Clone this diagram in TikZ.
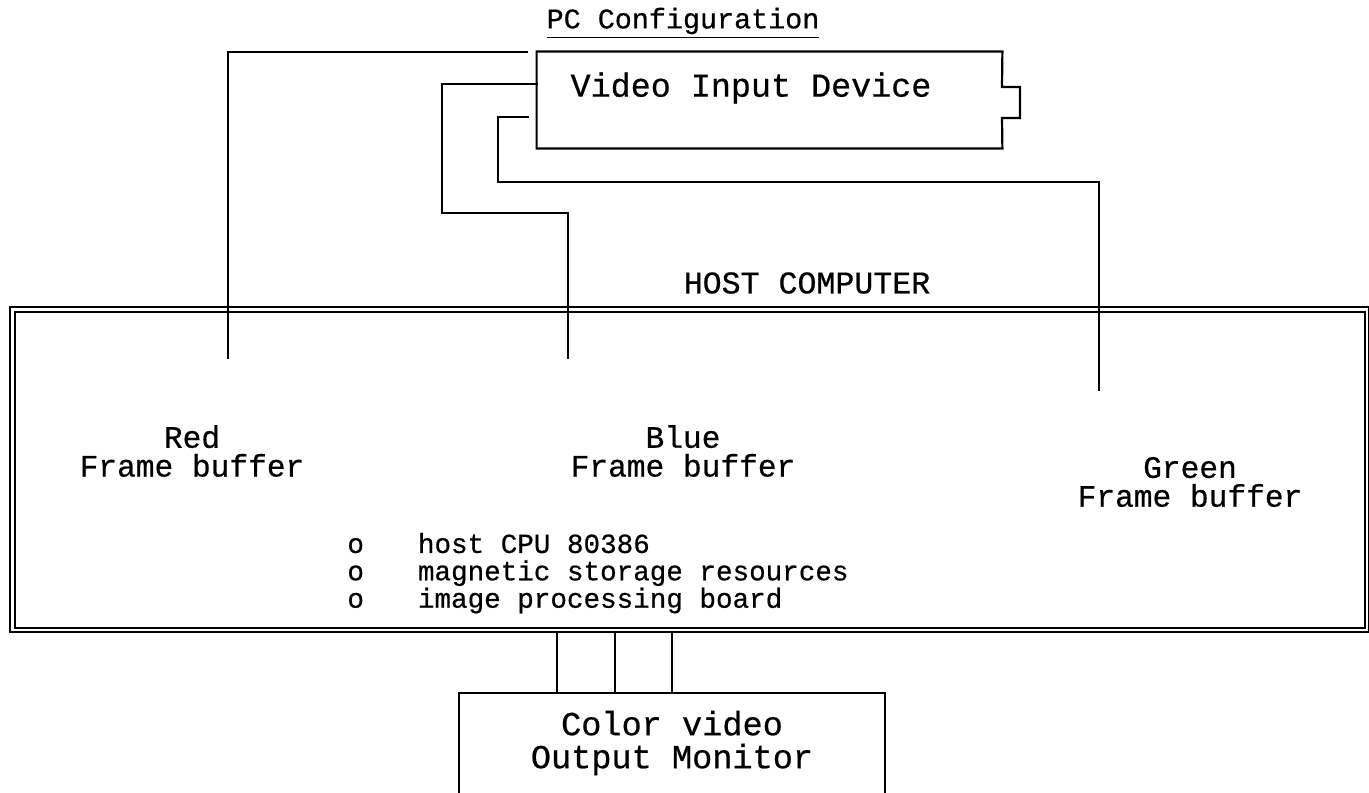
\documentclass[tikz,border=0pt]{standalone}
\usepackage{fontspec}
\setmonofont{Liberation Mono}[FakeBold=0.6]
\begin{document}
\begin{tikzpicture}[x=0.5pt,y=-0.5pt,
  wire/.style={line width=1.1pt},
  boxline/.style={draw,line width=1.1pt},
  lbl/.style={font=\ttfamily, align=center, inner sep=0pt},
  line cap=rect]
\useasboundingbox (0,0) rectangle (1369,792);
\clip (0,0) rectangle (1369,792);
% title
\node[lbl,font=\ttfamily\fontsize{14.2}{16}\selectfont] (title) at (683,23) {\underline{PC Configuration}};
% video input device
\node[lbl,minimum width=232.5pt,minimum height=48pt] (vid) at (769.5,100) {};
\node[lbl,font=\ttfamily\fontsize{16.7}{18}\selectfont] (vidt) at (751,88) {Video Input Device};
\draw[wire] (vid.north east) -- (vid.north west) -- (vid.south west) -- (vid.south east) -- (1002,118) -- (1020,118) -- (1020,87) -- (1002,87) -- cycle;
% host computer
\node[lbl,font=\ttfamily\fontsize{15.8}{18}\selectfont] (hostt) at (807,283) {HOST COMPUTER};
\node[boxline,minimum width=679.5pt,minimum height=162.5pt] (host) at (689.5,469.5) {};
\draw[wire] ([shift={(6,6)}]host.north west) rectangle ([shift={(-5,-5)}]host.south east);
% frame buffers
\node[lbl,font=\ttfamily\fontsize{15.6}{14.4}\selectfont] (red) at (192,451) {Red\\Frame buffer};
\node[lbl,font=\ttfamily\fontsize{15.6}{14.4}\selectfont] (blue) at (683,451) {Blue\\Frame buffer};
\node[lbl,font=\ttfamily\fontsize{15.6}{14.4}\selectfont] (green) at (1190,482) {Green\\Frame buffer};
% list
\node[lbl,anchor=west,align=left,font=\ttfamily\fontsize{13.8}{12.3}\selectfont] (list) at (347,574)
  {\begin{tabular}{@{}l@{\hspace{27pt}}l@{}}o & host CPU 80386\\ o & magnetic storage resources\\ o & image processing board\end{tabular}};
% monitor
\node[boxline,minimum width=213pt,minimum height=70pt] (mon) at (672,763) {};
\node[lbl,font=\ttfamily\fontsize{16.8}{16.5}\selectfont] (mont) at (672,743) {Color video\\Output Monitor};
% connectors
\coordinate (redA) at (527,52);
\coordinate (redB) at (228,358);
\coordinate (blueA) at (vid.west |- 0,84);
\coordinate (blueB) at (568,358);
\coordinate (greenA) at (528,117);
\coordinate (greenB) at (1099,390);
\draw[wire] (redA) -| (redB);
\draw[wire] (blueA) -| (442,213) -| (blueB);
\draw[wire] (greenA) -| (498,182) -| (greenB);
\foreach \x in {557,615,672} \draw[wire] (host.south -| \x,0) -- (mon.north -| \x,0);
\end{tikzpicture}
\end{document}
